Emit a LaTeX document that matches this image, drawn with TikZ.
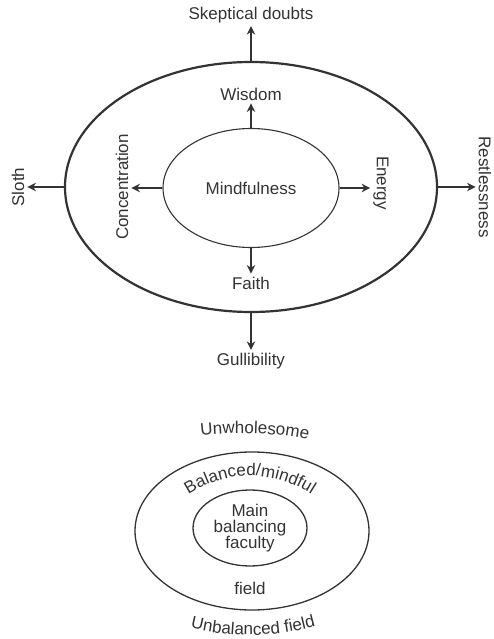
\documentclass[tikz,border=0pt]{standalone}
\usepackage{fontspec}
\setmainfont{Liberation Sans}
\usetikzlibrary{arrows.meta, positioning, shapes.geometric, decorations.text}
\definecolor{inkgray}{HTML}{333333}
\newcommand{\curvefont}{\fontsize{17}{19}\selectfont}

\begin{document}
\begin{tikzpicture}[x=1pt, y=-1pt, every node/.style={font=\fontsize{17}{19}\selectfont, text=inkgray},
  ring/.style={draw=inkgray, ellipse, inner sep=0pt},
  lbl/.style={inner sep=3pt},
  push/.style={draw=inkgray, line width=1.6pt, -{Stealth[length=8.5pt, width=8.5pt]}},
  curved/.style={decorate, decoration={text along path, text align=center, text color=inkgray, text={|\curvefont|#1}}}]
  \useasboundingbox (0,0) rectangle (493,639);
  \node[ring, line width=2.2pt, minimum width=372pt, minimum height=250pt] (field) at (251,187) {};
  \node[ring, line width=1.1pt, minimum width=176pt, minimum height=119pt] (mind) at (251,188) {Mindfulness};

  \node[lbl] (doubts) at (251,15) {Skeptical doubts};
  \node[lbl] (gull) at (251,361) {Gullibility};
  \node[lbl, rotate=90] (sloth) at (18,187) {Sloth};
  \node[lbl, rotate=-90] (restless) at (485,187) {Restlessness};
  \node[lbl] (wisdom) at (251,94) {Wisdom};
  \node[lbl] (faith) at (251,283) {Faith};
  \node[lbl, rotate=90] (conc) at (122,187) {Concentration};
  \node[lbl, rotate=-90] (energy) at (381,183) {Energy};

  \draw[push] (field.north) -- (doubts);
  \draw[push] (field.south) -- (gull);
  \draw[push] (field.west) -- (field.west -| sloth.south);
  \draw[push] (field.east) -- (field.east -| restless.south);
  \draw[push] (mind.north) -- (wisdom);
  \draw[push] (mind.south) -- (faith);
  \draw[push] (mind.west) -- (mind.west -| conc.south);
  \draw[push] (mind.east) -- (mind.east -| energy.south);

  \node[ring, line width=1.3pt, minimum width=234pt, minimum height=158pt] (outerfield) at (252,531) {};
  \node[ring, line width=1.3pt, minimum width=114pt, minimum height=76pt, align=center, font=\fontsize{17}{16}\selectfont] (faculty) at (250,528) {Main\\balancing\\faculty};
  \node (fieldtxt) at (250,588) {field};

  \path[curved=Unwholesome] (197,436) .. controls (225,432) and (280,432) .. (312,441);
  \path[curved=Balanced/mindful] (182,499) .. controls (225,468) and (275,468) .. (318,499);
  \path[curved=Unbalanced field] (188,627) .. controls (230,638) and (275,638) .. (318,625);
\end{tikzpicture}
\end{document}
